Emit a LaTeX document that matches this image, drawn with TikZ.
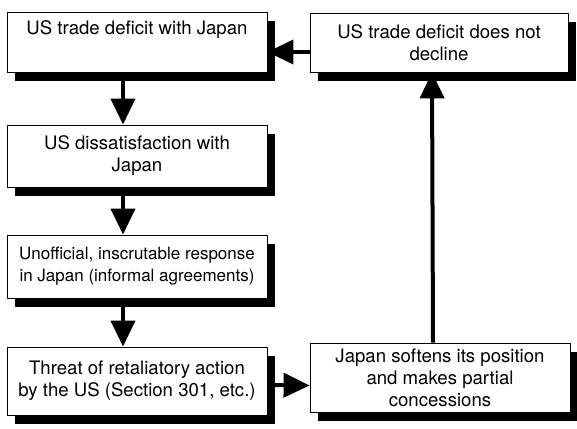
\documentclass[tikz,border=0pt]{standalone}
\usepackage{fontspec}
\setmainfont{TeX Gyre Heros}
\usetikzlibrary{arrows.meta,shadows}

\begin{document}
\begin{tikzpicture}[x=1pt, y=1pt,
    every node/.style={font=\fontsize{18.6}{22}\selectfont, align=center},
    box/.style={draw=black, fill=white, line width=0.8pt, rectangle,
        minimum width=260pt, inner sep=0pt,
        drop shadow={shadow xshift=8pt, shadow yshift=-9pt, fill=black, opacity=1}},
    flow/.style={line width=4pt, -{Triangle[width=24pt, length=26pt]}}]
        \useasboundingbox (0,0) rectangle (577,428);
        % Left column
        \node (deficit) [box, minimum height=60pt] at (137,386) {US trade deficit with Japan\\ \strut};
        \node (dissat) [box, minimum height=62pt] at (137,272) {US dissatisfaction with\\Japan};
        \node (response) [box, minimum height=63pt, font=\fontsize{17}{22}\selectfont] at (137,161.5)
            {Unofficial, inscrutable response\\in Japan (informal agreements)};
        \node (threat) [box, minimum height=68pt] at (137,47)
            {Threat of retaliatory action\\by the US (Section 301, etc.)};
        % Right column
        \node (nodecline) [box, minimum width=258pt, minimum height=59pt] at (439,385.5)
            {US trade deficit does not\\decline};
        \node (soften) [box, minimum height=69pt] at (440,50.5)
            {Japan softens its position\\and makes partial\\concessions};

        % Arrows down the left column
        \draw[flow] ([xshift=-14pt]deficit.south) -- ([xshift=-14pt]dissat.north);
        \draw[flow] ([xshift=-14pt]dissat.south) -- ([xshift=-14pt]response.north);
        \draw[flow] ([xshift=-14pt]response.south) -- ([xshift=-14pt]threat.north);
        % Arrows round the loop
        \draw[flow] ([yshift=-4pt]threat.east) -- ([yshift=-8pt]soften.west);
        \draw[flow] ([xshift=-7pt]soften.north) -- ([xshift=-7pt]nodecline.south);
        \draw[flow] ([yshift=-9.5pt]nodecline.west) -- ([yshift=-10pt]deficit.east);
    \end{tikzpicture}
\end{document}
